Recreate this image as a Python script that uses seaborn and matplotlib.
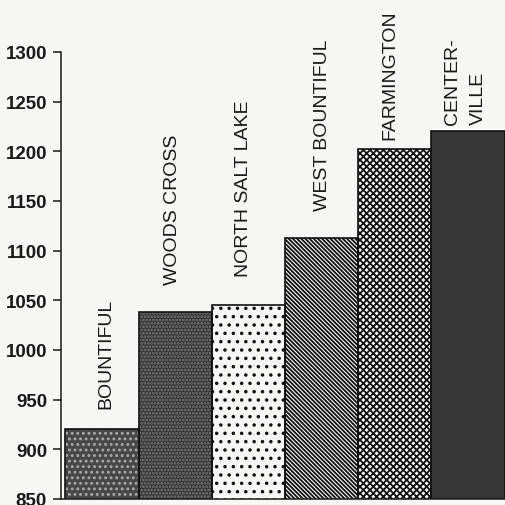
import matplotlib
matplotlib.use("Agg")
import matplotlib.pyplot as plt
import seaborn as sns

# elevation of the towns
towns = ["BOUNTIFUL", "WOODS CROSS", "NORTH SALT LAKE", "WEST BOUNTIFUL", "FARMINGTON", "CENTER-\nVILLE"]
elevation = [920, 1038, 1045, 1113, 1202, 1220]
yticks = [850, 900, 950, 1000, 1050, 1100, 1150, 1200, 1250, 1300]

# look of each bar
paper = "#f7f7f5"
faces = ["#474747", "#333333", paper, paper, paper, "#363636"]
hatches = ["...", ".....", "..", "\\" * 8, "x" * 5, ""]
hatch_colors = ["#a9a9a9", "#7c7c7c", "#111111", "#111111", "#111111", "#363636"]
# gap between bar top and label, and small sideways shift of the label
label_gap = [22, 28, 29, 28, 10, 7]
label_shift = [0.05, -0.04, -0.07, 0.01, -0.07, -0.03]

sns.set_style("white")
plt.rcParams["font.family"] = ["Liberation Sans", "DejaVu Sans"]
plt.rcParams["hatch.linewidth"] = 1.3

fig = plt.figure(figsize=(5.05, 5.06), dpi=100, facecolor=paper)
ax = fig.add_axes([0.1208, 0.0119, 0.879, 0.8834])
ax.set_facecolor(paper)

sns.barplot(x=towns, y=elevation, hue=towns, palette=faces, width=1.0,
            legend=False, saturation=1, ax=ax)
for patch, h, hc in zip(ax.patches, hatches, hatch_colors):
    patch.set_hatch(h)
    patch.set_edgecolor(hc)
    patch.set_linewidth(0)

# black outlines on top
sns.barplot(x=towns, y=elevation, width=1.0, fill=False, color="#111111",
            linewidth=1.2, ax=ax)

for i, (name, val) in enumerate(zip(towns, elevation)):
    ax.text(i + label_shift[i], val + label_gap[i], name, rotation=90,
            ha="center", va="bottom", fontsize=14, color="#1a1a1a",
            multialignment="left", linespacing=1.7, clip_on=False)

ax.set_ylim(850, 1300)
ax.set_xlim(-0.56, 5.505)
ax.set_yticks(yticks)
ax.set_yticklabels([str(t) for t in yticks], fontsize=13.5, fontweight="bold", color="#1a1a1a")
ax.set_xticks([])
ax.set_xlabel("")
ax.set_ylabel("")
ax.tick_params(axis="y", left=True, length=6, width=1.1, pad=4, color="#1a1a1a")
for side in ["top", "right"]:
    ax.spines[side].set_visible(False)
ax.spines["left"].set_color("#1a1a1a")
ax.spines["left"].set_linewidth(1.1)
ax.spines["bottom"].set_color("#1a1a1a")
ax.spines["bottom"].set_linewidth(1.1)

plt.savefig("out.png", dpi=100, facecolor=paper)
